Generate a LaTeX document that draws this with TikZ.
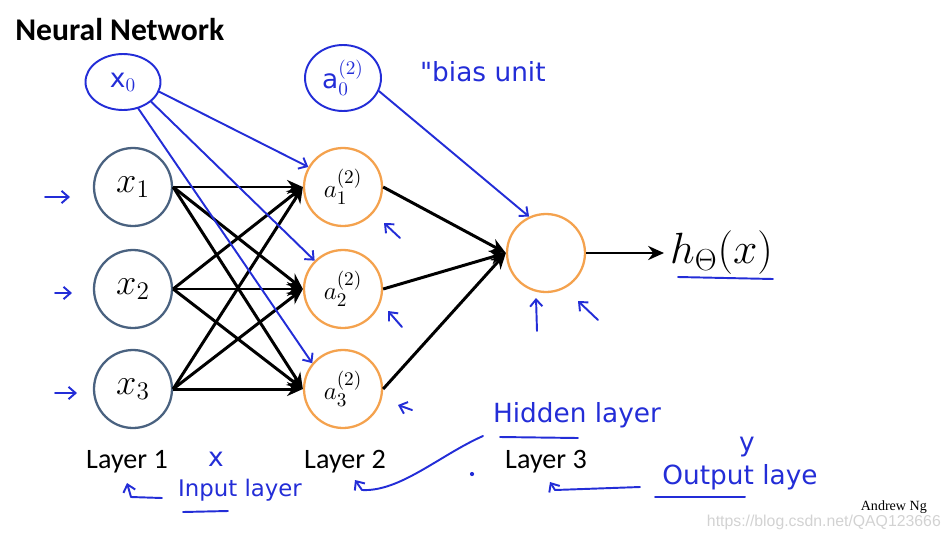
\documentclass[tikz,border=0pt]{standalone}
\usepackage{amsmath}
\usepackage{fontspec}
\setmainfont{Carlito}
\newfontfamily\handfont{DejaVu Sans}
\newfontfamily\slidefoot{Liberation Serif}
\newfontfamily\markfont{Liberation Sans}
\usetikzlibrary{arrows.meta,shapes.geometric}
\definecolor{inputblue}{RGB}{74,98,128}
\definecolor{hiddenorange}{RGB}{244,162,78}
\definecolor{penblue}{RGB}{35,45,215}
\definecolor{markgray}{RGB}{210,210,210}

\begin{document}
\begin{tikzpicture}[x=0.02cm,y=-0.02cm]
    \tikzstyle{input node}=[circle,draw=inputblue,line width=1.3pt,minimum size=1.56cm,inner sep=0,font=\fontsize{20}{24}\selectfont];
    \tikzstyle{hidden node}=[circle,draw=hiddenorange,line width=1.3pt,minimum size=1.56cm,inner sep=0,font=\fontsize{15}{18}\selectfont];
    \tikzstyle{weight}=[line width=1.7pt,-{Stealth[length=9pt,width=8pt]}];
    \tikzstyle{pen}=[draw=penblue,line width=1.1pt,line cap=round,line join=round];
    \tikzstyle{pen arrow}=[pen,-{Straight Barb[length=4pt,width=7pt]}];
    \tikzstyle{ink}=[text=penblue,font=\handfont\fontsize{15}{18}\selectfont,inner sep=1pt];
    \tikzstyle{layer label}=[font=\fontsize{16}{19}\selectfont];
    \useasboundingbox (0,0) rectangle (952,534);
    \node[anchor=base west,font=\bfseries\fontsize{18}{22}\selectfont,inner sep=0] (title) at (15,40) {Neural Network};
    % layers 1 and 2
    \foreach \i/\y in {1/187,2/289,3/389} {
        \node[input node] (x\i) at (133,\y) {$x_\i$};
        \node[hidden node] (a\i) at (343,\y) {$a_\i^{(2)}$};
    }
    \node[hidden node] (out) at (546,253) {};
    \node[font=\fontsize{23}{27}\selectfont,anchor=west] (h) at (664,253) {$h_\Theta(x)$};
    \foreach \i in {1,2,3} {
        \foreach \j in {1,2,3} \draw[weight] (x\i.east) -- (a\j.west);
        \draw[weight] (a\i.east) -- (out.west);
    }
    \draw[weight] (out.east) -- (h.west);
    \node[layer label] (l1) at (127,462) {Layer 1};
    \node[layer label] (l2) at (345,462) {Layer 2};
    \node[layer label] (l3) at (546,462) {Layer 3};
    % handwritten notes
    \node[ink,ellipse,pen,minimum width=1.5cm,minimum height=1.12cm] (x0) at (123,82) {x$_0$};
    \node[ink,ellipse,pen,minimum width=1.52cm,minimum height=1.32cm] (a0) at (343,78) {a$_0^{(2)}$};
    \node[ink,anchor=west] (bias) at (418,72) {"bias unit};
    \draw[pen arrow] (x0.-15) -- (a1.150);
    \draw[pen arrow] (x0.-35) -- (a2.135);
    \draw[pen arrow] (x0.-60) -- (a3.140);
    \draw[pen arrow] (a0.-20) -- (out.115);
    \foreach \x/\y/\l in {45/197/25,55/293/17,55/393/22} \draw[pen arrow] (\x,\y) -- ++(\l,0);
    \draw[pen arrow] (400,238) -- (384,223);
    \draw[pen arrow] (402,327) -- (388,311);
    \draw[pen arrow] (412,410) -- (398,405);
    \draw[pen arrow] (537,331) -- (536,298);
    \draw[pen arrow] (598,320) -- (578,301);
    \draw[pen] (678,277) -- (773,279);
    \node[ink] (xmark) at (216,459) {x};
    \node[ink,font=\handfont\fontsize{13}{16}\selectfont] (input) at (240,490) {Input layer};
    \draw[pen] (183,512) -- (228,511);
    \draw[pen arrow] (162,498) -- (131,497) -- (127,483);
    \node[ink] (hidden) at (577,415) {Hidden layer};
    \draw[pen] (500,437) -- (578,438);
    \draw[pen arrow] (483,436) .. controls (440,455) and (400,492) .. (362,490) -- (355,480);
    \fill[penblue] (472,474) circle [radius=1.2pt];
    \node[ink] (ymark) at (747,447) {y};
    \node[ink] (output) at (740,477) {Output laye};
    \draw[pen] (655,497) -- (745,497);
    \draw[pen arrow] (640,487) -- (555,490) -- (550,482);
    \node[text=markgray,font=\markfont\fontsize{9}{11}\selectfont,anchor=east] (mark) at (947,522) {https://blog.csdn.net/QAQ123666};
    \node[font=\slidefoot\fontsize{8}{10}\selectfont,anchor=east] (author) at (933,507) {Andrew Ng};
\end{tikzpicture}
\end{document}
